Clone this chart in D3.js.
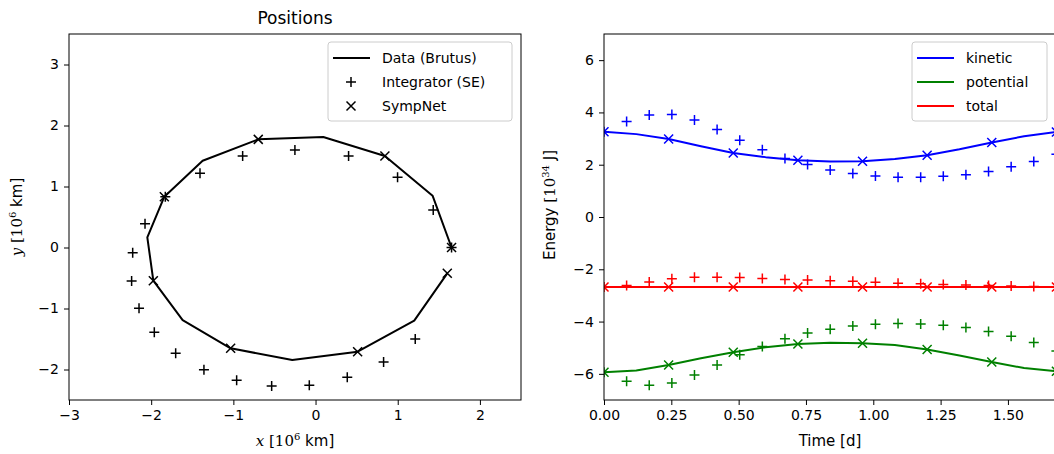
<!DOCTYPE html>
<html>
<head>
<meta charset="utf-8">
<script src="https://cdn.jsdelivr.net/npm/d3@7"></script>
<style>
  body { margin: 0; background: #fff; }
  svg { font-family: "DejaVu Sans", sans-serif; }
  .tick text { font-size: 14px; fill: #000; font-family: "DejaVu Sans", sans-serif; }
  .tick line, .domain { stroke: #000; }
</style>
</head>
<body>
<svg id="chart" width="1054" height="454"></svg>
<script>
// orbit (positions) -- Data (Brutus), 15 samples
const dataX = [1.655, 1.424, 0.844, 0.094, -0.697, -1.374, -1.840, -2.047, -1.974, -1.617, -1.033, -0.283, 0.512, 1.201, 1.603];
const dataY = [0.0, 0.85, 1.50, 1.811, 1.773, 1.423, 0.833, 0.167, -0.544, -1.189, -1.653, -1.844, -1.708, -1.199, -0.423];
// Integrator (SE), 21 samples
const seX = [1.655, 1.432, 0.998, 0.402, -0.251, -0.887, -1.406, -1.828, -2.075, -2.225, -2.238, -2.148, -1.962, -1.702, -1.358, -0.960, -0.534, -0.076, 0.386, 0.828, 1.213];
const seY = [0.0, 0.615, 1.150, 1.50, 1.598, 1.50, 1.216, 0.833, 0.391, -0.085, -0.549, -0.997, -1.391, -1.735, -2.003, -2.178, -2.270, -2.260, -2.128, -1.877, -1.500];
// SympNet, 8 samples
const snX = [1.655, 0.844, -0.697, -1.840, -1.974, -1.033, 0.512, 1.603];
const snY = [0.0, 1.50, 1.773, 0.833, -0.544, -1.653, -1.708, -0.423];

// energies
const tData = [0, 0.12, 0.24, 0.36, 0.48, 0.60, 0.72, 0.84, 0.96, 1.08, 1.20, 1.32, 1.44, 1.56, 1.68];
const kinData = [3.26, 3.17, 2.98, 2.71, 2.45, 2.29, 2.17, 2.12, 2.13, 2.22, 2.36, 2.59, 2.85, 3.09, 3.25];
const potData = [-5.94, -5.87, -5.66, -5.40, -5.17, -4.98, -4.86, -4.81, -4.83, -4.90, -5.07, -5.30, -5.55, -5.78, -5.90];
const totData = [-2.68, -2.68, -2.68, -2.68, -2.68, -2.68, -2.68, -2.68, -2.68, -2.68, -2.68, -2.68, -2.68, -2.68, -2.68];

const tSE = [0, 0.084, 0.168, 0.252, 0.336, 0.42, 0.504, 0.588, 0.672, 0.756, 0.84, 0.924, 1.008, 1.092, 1.176, 1.26, 1.344, 1.428, 1.512, 1.596, 1.68];
const kinSE = [3.26, 3.65, 3.90, 3.92, 3.71, 3.35, 2.94, 2.57, 2.24, 2.01, 1.80, 1.66, 1.57, 1.52, 1.52, 1.56, 1.62, 1.74, 1.92, 2.12, 2.40];
const potSE = [-5.94, -6.28, -6.44, -6.35, -6.04, -5.66, -5.27, -4.95, -4.66, -4.44, -4.29, -4.17, -4.10, -4.07, -4.09, -4.14, -4.23, -4.38, -4.56, -4.80, -5.13];
const totSE = [-2.68, -2.62, -2.49, -2.36, -2.30, -2.30, -2.31, -2.35, -2.39, -2.41, -2.44, -2.46, -2.50, -2.53, -2.55, -2.58, -2.60, -2.62, -2.64, -2.66, -2.67];

const tSN = [0, 0.24, 0.48, 0.72, 0.96, 1.20, 1.44, 1.68];
const kinSN = [3.26, 2.98, 2.45, 2.17, 2.13, 2.36, 2.85, 3.25];
const potSN = [-5.94, -5.66, -5.17, -4.86, -4.83, -5.07, -5.55, -5.90];
const totSN = [-2.68, -2.68, -2.68, -2.68, -2.68, -2.68, -2.68, -2.68];

const xTicksL = [-3, -2, -1, 0, 1, 2];
const yTicksL = [-2, -1, 0, 1, 2, 3];
const xTicksR = [0, 0.25, 0.5, 0.75, 1.0, 1.25, 1.5];
const yTicksR = [-6, -4, -2, 0, 2, 4, 6];

const svg = d3.select('#chart');
const plus = 'M-5,0H5M0,-5V5';
const cross = 'M-4.5,-4.5L4.5,4.5M-4.5,4.5L4.5,-4.5';

function makeAxes(id, xr, yr, xd, yd, xt, yt, xfmt) {
  const xs = d3.scaleLinear().domain(xd).range(xr);
  const ys = d3.scaleLinear().domain(yd).range(yr);
  svg.append('clipPath').attr('id', id)
    .append('rect').attr('x', xr[0]).attr('y', yr[1])
    .attr('width', xr[1] - xr[0]).attr('height', yr[0] - yr[1]);
  const g = svg.append('g').attr('clip-path', `url(#${id})`);
  const xa = svg.append('g').attr('transform', `translate(0,${yr[0]})`)
    .call(d3.axisBottom(xs).tickValues(xt).tickSize(5).tickSizeOuter(0).tickPadding(5).tickFormat(xfmt));
  const ya = svg.append('g').attr('transform', `translate(${xr[0]},0)`)
    .call(d3.axisLeft(ys).tickValues(yt).tickSize(5).tickSizeOuter(0).tickPadding(5).tickFormat(d3.format('d')));
  xa.select('.domain').remove();
  ya.select('.domain').remove();
  svg.append('rect').attr('x', xr[0]).attr('y', yr[1])
    .attr('width', xr[1] - xr[0]).attr('height', yr[0] - yr[1])
    .attr('fill', 'none').attr('stroke', '#000').attr('stroke-width', 1);
  return {xs, ys, g};
}

function drawLine(ax, xv, yv, color) {
  ax.g.append('path')
    .attr('d', d3.line().x((d, i) => ax.xs(xv[i])).y((d, i) => ax.ys(yv[i]))(xv))
    .attr('fill', 'none').attr('stroke', color).attr('stroke-width', 2)
    .attr('stroke-linejoin', 'round');
}
function drawMarks(ax, xv, yv, shape, color) {
  ax.g.append('g').selectAll('path').data(xv).join('path')
    .attr('transform', (d, i) => `translate(${ax.xs(xv[i])},${ax.ys(yv[i])})`)
    .attr('d', shape).attr('fill', 'none').attr('stroke', color).attr('stroke-width', 1.5);
}

// left: positions
const L = makeAxes('clipL', [69, 521], [400, 34], [-3, 2.5], [-2.5, 3.5], xTicksL, yTicksL, d3.format('d'));
drawLine(L, dataX, dataY, '#000');
drawMarks(L, seX, seY, plus, '#000');
drawMarks(L, snX, snY, cross, '#000');

// right: energy
const R = makeAxes('clipR', [604, 1056.4], [400, 34], [0, 1.68], [-7, 7], xTicksR, yTicksR, d3.format('.2f'));
const series = [
  {c: '#0000ff', d: kinData, s: kinSE, n: kinSN},
  {c: '#008000', d: potData, s: potSE, n: potSN},
  {c: '#ff0000', d: totData, s: totSE, n: totSN}
];
series.forEach(e => {
  drawLine(R, tData, e.d, e.c);
  drawMarks(R, tSE, e.s, plus, e.c);
  drawMarks(R, tSN, e.n, cross, e.c);
});

// titles / labels
svg.append('text').attr('x', 295).attr('y', 24).attr('text-anchor', 'middle')
  .style('font-size', '17px').text('Positions');

function axisLabel(x, y, rot, parts) {
  const t = svg.append('text').attr('text-anchor', 'middle')
    .attr('transform', `translate(${x},${y}) rotate(${rot})`).style('font-size', '15px');
  parts.forEach(p => {
    const s = t.append('tspan').text(p.t);
    if (p.serif) s.style('font-family', '"DejaVu Serif", serif');
    if (p.it) s.style('font-style', 'italic');
    if (p.sup) s.attr('dy', -6).style('font-size', '10px');
    if (p.down) s.attr('dy', 6);
  });
}
axisLabel(295, 446, 0, [{t: 'x ', it: true, serif: true}, {t: '[10', serif: true}, {t: '6', serif: true, sup: true}, {t: ' km]', down: true}]);
axisLabel(22, 217, -90, [{t: 'y ', it: true, serif: true}, {t: '[10', serif: true}, {t: '6', serif: true, sup: true}, {t: ' km]', down: true}]);
svg.append('text').attr('x', 830).attr('y', 446).attr('text-anchor', 'middle')
  .style('font-size', '15px').text('Time [d]');
axisLabel(555, 205, -90, [{t: 'Energy '}, {t: '[10', serif: true}, {t: '34', serif: true, sup: true}, {t: '  J]', down: true}]);

// legends
function legend(x, y, w, h, items) {
  svg.append('rect').attr('x', x).attr('y', y).attr('width', w).attr('height', h)
    .attr('rx', 3).attr('fill', '#fff').attr('fill-opacity', 0.8)
    .attr('stroke', '#ccc').attr('stroke-width', 1);
  items.forEach((it, i) => {
    const cy = y + 16 + i * 24;
    if (it.kind === 'line') {
      svg.append('line').attr('x1', x + 5).attr('x2', x + 42).attr('y1', cy).attr('y2', cy)
        .attr('stroke', it.color).attr('stroke-width', 2);
    } else {
      svg.append('path').attr('transform', `translate(${x + 23},${cy})`)
        .attr('d', it.kind === 'plus' ? plus : cross)
        .attr('fill', 'none').attr('stroke', it.color).attr('stroke-width', 1.5);
    }
    svg.append('text').attr('x', x + 54).attr('y', cy + 5).style('font-size', '14px').text(it.label);
  });
}
legend(328, 42, 184, 79, [
  {kind: 'line', color: '#000', label: 'Data (Brutus)'},
  {kind: 'plus', color: '#000', label: 'Integrator (SE)'},
  {kind: 'cross', color: '#000', label: 'SympNet'}
]);
legend(912, 42, 135, 79, [
  {kind: 'line', color: '#0000ff', label: 'kinetic'},
  {kind: 'line', color: '#008000', label: 'potential'},
  {kind: 'line', color: '#ff0000', label: 'total'}
]);
</script>
</body>
</html>
